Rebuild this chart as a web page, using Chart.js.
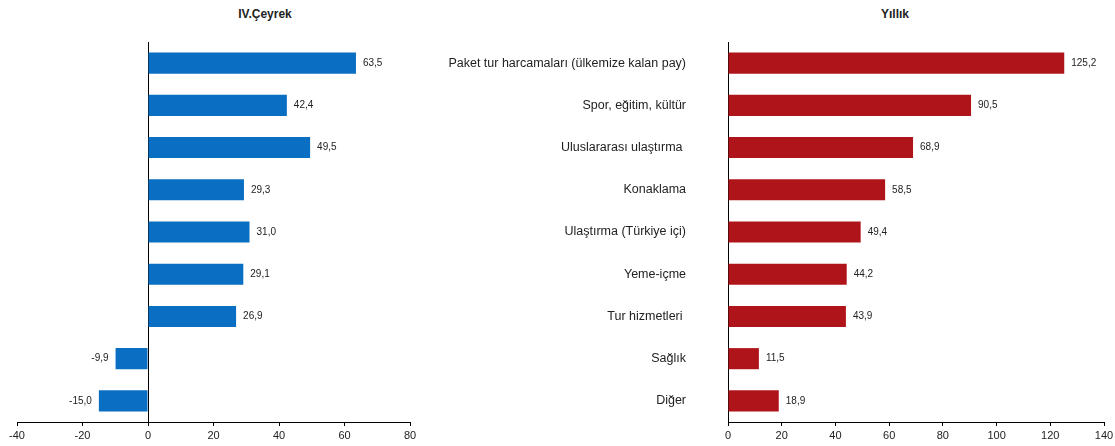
<!DOCTYPE html>
<html>
<head>
<meta charset="utf-8">
<script src="https://cdn.jsdelivr.net/npm/chart.js@4/dist/chart.umd.min.js"></script>
<style>
  body { margin: 0; background: #fff; width: 1115px; height: 446px; position: relative; overflow: hidden; }
  canvas { position: absolute; top: 0; }
  #left { left: 0; }
  #right { left: 430px; }
  .title { position: absolute; top: 7px; font: bold 12px "Liberation Sans", Arial, sans-serif; color: #222; transform: translateX(-50%); }
</style>
</head>
<body>
<div class="title" style="left:265px">IV.Çeyrek</div>
<div class="title" style="left:895px">Yıllık</div>
<canvas id="left" width="440" height="446"></canvas>
<canvas id="right" width="685" height="446"></canvas>
<script>
// categories and values
const categories = ['Paket tur harcamaları (ülkemize kalan pay)', 'Spor, eğitim, kültür', 'Uluslararası ulaştırma ', 'Konaklama',
  'Ulaştırma (Türkiye içi)', 'Yeme-içme', 'Tur hizmetleri ', 'Sağlık', 'Diğer'];
const quarterValues = [63.5, 42.4, 49.5, 29.3, 31.0, 29.1, 26.9, -9.9, -15.0];
const yearValues = [125.2, 90.5, 68.9, 58.5, 49.4, 44.2, 43.9, 11.5, 18.9];
const quarterTicks = [-40, -20, 0, 20, 40, 60, 80];
const yearTicks = [0, 20, 40, 60, 80, 100, 120, 140];

// draw value at the end of each bar
const valueLabels = {
  id: 'valueLabels',
  afterDatasetsDraw(chart) {
    const ctx = chart.ctx;
    ctx.save();
    ctx.font = '10px "Liberation Sans", Arial, sans-serif';
    ctx.fillStyle = '#222';
    ctx.textBaseline = 'middle';
    chart.getDatasetMeta(0).data.forEach((bar, i) => {
      let v = chart.data.datasets[0].data[i];
      let txt = v.toFixed(1).replace('.', ',');
      if (v < 0) { ctx.textAlign = 'right'; ctx.fillText(txt, bar.x - 7, bar.y); }
      else { ctx.textAlign = 'left'; ctx.fillText(txt, bar.x + 7, bar.y); }
    });
    ctx.restore();
  }
};

const tickFont = { family: '"Liberation Sans", Arial, sans-serif', size: 11 };

function xAxis(ticks, zeroLine) {
  return {
    type: 'linear',
    min: ticks[0],
    max: ticks[ticks.length - 1],
    afterBuildTicks: s => { s.ticks = ticks.map(v => ({ value: v })); },
    afterFit: s => { s.height = 24; s.paddingLeft = 0; s.paddingRight = 0; },
    border: { display: true, color: '#000', width: 1 },
    grid: {
      drawOnChartArea: zeroLine,
      color: c => (zeroLine && c.tick && c.tick.value === 0) ? '#000' : 'rgba(0,0,0,0)',
      tickColor: '#000',
      tickLength: 4
    },
    ticks: { color: '#222', font: tickFont, padding: 3 }
  };
}

new Chart(document.getElementById('left'), {
  type: 'bar',
  data: {
    labels: categories,
    datasets: [{ data: quarterValues, backgroundColor: '#0a6fc2', categoryPercentage: 1, barPercentage: 0.5 }]
  },
  options: {
    indexAxis: 'y',
    responsive: false,
    animation: false,
    layout: { padding: { left: 17, right: 30, top: 42, bottom: 0 } },
    plugins: { legend: { display: false }, tooltip: { enabled: false } },
    scales: {
      x: xAxis(quarterTicks, true),
      y: { display: false }
    }
  },
  plugins: [valueLabels]
});

new Chart(document.getElementById('right'), {
  type: 'bar',
  data: {
    labels: categories,
    datasets: [{ data: yearValues, backgroundColor: '#b0141b', categoryPercentage: 1, barPercentage: 0.5 }]
  },
  options: {
    indexAxis: 'y',
    responsive: false,
    animation: false,
    layout: { padding: { left: 0, right: 11, top: 42, bottom: 0 } },
    plugins: { legend: { display: false }, tooltip: { enabled: false } },
    scales: {
      x: xAxis(yearTicks, false),
      y: {
        afterFit: s => { s.width = 298; s.paddingTop = 0; s.paddingBottom = 0; },
        border: { display: true, color: '#000', width: 1 },
        grid: { display: false, drawTicks: false },
        ticks: { color: '#222', padding: 42, font: { family: '"Liberation Sans Narrow", "Arial Narrow", "Liberation Sans", sans-serif', size: 12.5 } }
      }
    }
  },
  plugins: [valueLabels]
});
</script>
</body>
</html>
